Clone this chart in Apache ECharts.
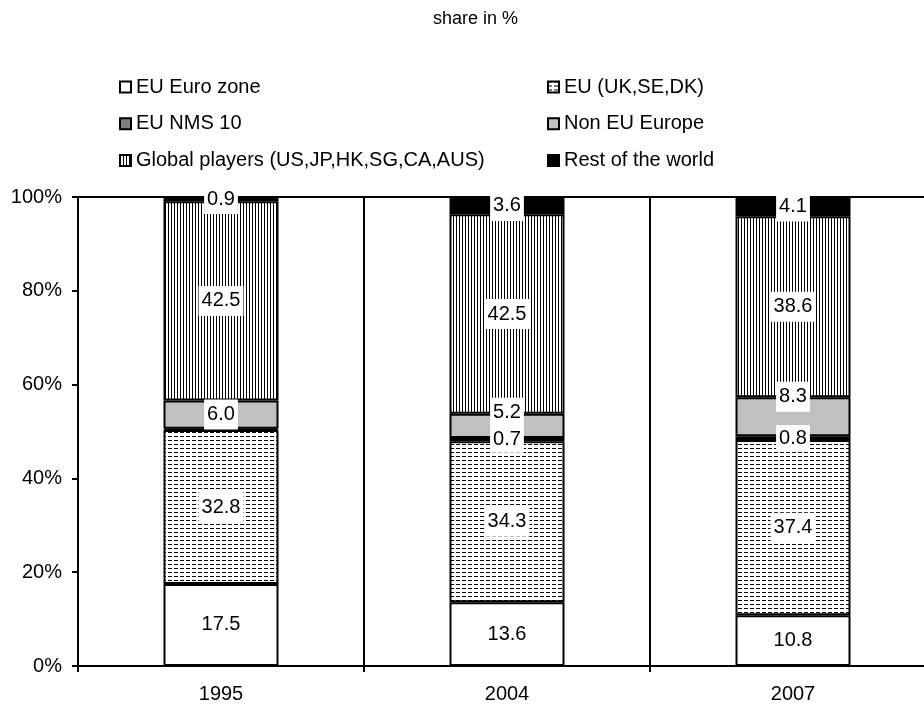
<!DOCTYPE html>
<html>
<head>
<meta charset="utf-8">
<script src="https://cdn.jsdelivr.net/npm/echarts@6/dist/echarts.min.js"></script>
<style>html,body{margin:0;padding:0;background:#fff;overflow:hidden;width:924px;height:707px}#c{width:944px;height:707px}</style>
</head>
<body>
<div id="c"></div>
<script>
const categories = ['1995', '2004', '2007'];
const euroZone = [17.5, 13.6, 10.8];
const euOther = [32.8, 34.3, 37.4];
const nms10 = [0.3, 0.7, 0.8];
const nonEuEurope = [6.0, 5.2, 8.3];
const globalPlayers = [42.5, 42.5, 38.6];
const restOfWorld = [0.9, 3.6, 4.1];
const yTicks = [0, 20, 40, 60, 80, 100];

function pattern(w, h, draw) {
  const c = document.createElement('canvas');
  c.width = w; c.height = h;
  const g = c.getContext('2d');
  g.fillStyle = '#fff'; g.fillRect(0, 0, w, h);
  g.fillStyle = '#000';
  draw(g);
  return { image: c, repeat: 'repeat' };
}
const vLines = pattern(3, 3, g => g.fillRect(0, 0, 1, 3));
const dashes = pattern(6, 4, g => g.fillRect(0, 0, 4, 1));

const font = 'Liberation Sans, Arial, sans-serif';
function lbl(pad) {
  return {
    show: true, position: 'inside', color: '#000', fontFamily: font, fontSize: 20,
    backgroundColor: '#fff', padding: pad, formatter: p => Number(p.value).toFixed(1)
  };
}
function mk(name, data, color, pad, z) {
  return {
    name, type: 'bar', stack: 'a', data, barWidth: 115, z: z || 2,
    itemStyle: { color, borderColor: '#000', borderWidth: 2 },
    label: lbl(pad || [5, 3]), emphasis: { disabled: true }
  };
}
// label placement tweaks (pixels), as in the original chart where two labels were nudged up
const nonEuLabelShift = [0, -13, -20];
const chart = echarts.init(document.getElementById('c'), null, { renderer: 'canvas' });
const legendBase = {
  orient: 'vertical', top: 76, padding: 0, itemWidth: 11, itemHeight: 11, itemGap: 14.8,
  icon: 'rect', selectedMode: false,
  itemStyle: { borderColor: '#000', borderWidth: 2 },
  textStyle: { fontFamily: font, fontSize: 20, color: '#000', lineHeight: 22 }
};
chart.setOption({
  animation: false,
  title: { text: 'share in %', left: 428, top: 5, textStyle: { fontFamily: font, fontSize: 18, fontWeight: 'normal', color: '#000' } },
  legend: [
    Object.assign({}, legendBase, { left: 119, data: ['EU Euro zone', 'EU NMS 10', 'Global players (US,JP,HK,SG,CA,AUS)'] }),
    Object.assign({}, legendBase, { left: 547, data: ['EU (UK,SE,DK)', 'Non EU Europe', 'Rest of the world'] })
  ],
  grid: { left: 78, top: 197, width: 858, height: 469, show: true, borderColor: '#000', borderWidth: 2, backgroundColor: 'transparent' },
  xAxis: {
    type: 'category', data: categories,
    axisLine: { lineStyle: { color: '#000', width: 2 } },
    axisTick: { show: true, length: 6, lineStyle: { color: '#000', width: 2 } },
    splitLine: { show: true, lineStyle: { color: '#000', width: 2 } },
    axisLabel: { margin: 18, fontFamily: font, fontSize: 20, color: '#000' }
  },
  yAxis: {
    type: 'value', min: yTicks[0], max: yTicks[yTicks.length - 1], interval: 20,
    axisLine: { show: true, lineStyle: { color: '#000', width: 2 } },
    axisTick: { show: true, length: 6, lineStyle: { color: '#000', width: 2 } },
    splitLine: { show: false },
    axisLabel: { formatter: '{value}%', margin: 16, fontFamily: font, fontSize: 20, color: '#000' }
  },
  series: [
    mk('EU Euro zone', euroZone, '#fff'),
    mk('EU (UK,SE,DK)', euOther, dashes),
    mk('EU NMS 10', nms10.map((v, i) => i === 0 ? { value: v, label: { show: false } } : v), '#808080', [3, 3]),
    mk('Non EU Europe', nonEuEurope.map((v, i) => ({ value: v, label: { offset: [0, nonEuLabelShift[i]] } })), '#c0c0c0'),
    mk('Global players (US,JP,HK,SG,CA,AUS)', globalPlayers, vLines),
    mk('Rest of the world', restOfWorld, '#000')
  ]
});
</script>
</body>
</html>
